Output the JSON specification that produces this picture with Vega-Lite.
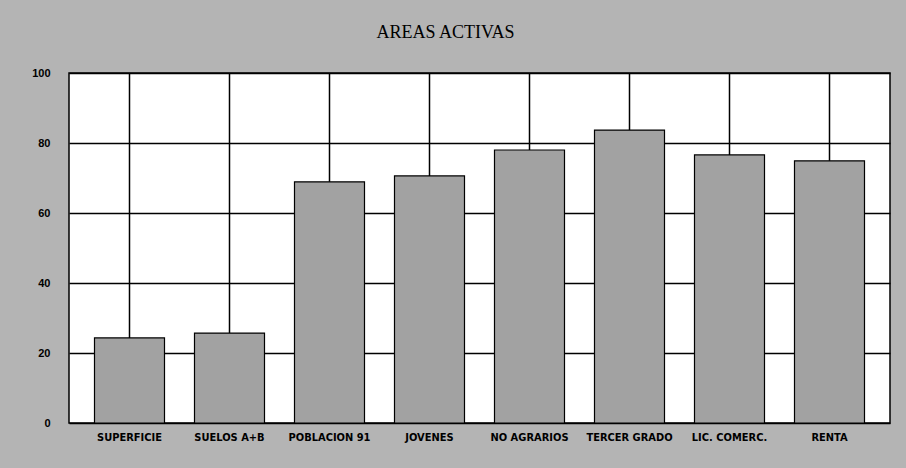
{
  "$schema": "https://vega.github.io/schema/vega-lite/v6.json",
  "width": 821,
  "height": 350,
  "autosize": {"type": "none"},
  "padding": {"left": 69, "top": 73, "right": 16, "bottom": 45},
  "background": "#b4b4b4",
  "title": {
    "text": "AREAS ACTIVAS",
    "font": "Liberation Serif",
    "fontSize": 18,
    "fontWeight": "normal",
    "color": "black",
    "anchor": "middle",
    "dx": -34,
    "offset": 25
  },
  "config": {
    "view": {"fill": "white", "stroke": "black", "strokeWidth": 1.5}
  },
  "data": {
    "values": [
      {"area": "SUPERFICIE", "valor": 24.3},
      {"area": "SUELOS A+B", "valor": 25.7},
      {"area": "POBLACION 91", "valor": 68.9},
      {"area": "JOVENES", "valor": 70.6},
      {"area": "NO AGRARIOS", "valor": 78},
      {"area": "TERCER GRADO", "valor": 83.7},
      {"area": "LIC. COMERC.", "valor": 76.6},
      {"area": "RENTA", "valor": 74.9}
    ]
  },
  "mark": {"type": "bar", "fill": "#a2a2a2", "stroke": "black", "strokeWidth": 1.2},
  "encoding": {
    "x": {
      "field": "area",
      "type": "nominal",
      "sort": null,
      "scale": {"paddingInner": 0.3, "paddingOuter": 0.255},
      "axis": {
        "title": null,
        "labelAngle": 0,
        "domain": false,
        "ticks": false,
        "grid": true,
        "bandPosition": 0.5,
        "gridColor": "black",
        "gridOpacity": 1,
        "gridWidth": 1.5,
        "labelFont": "Liberation Sans Narrow, DejaVu Sans Condensed, sans-serif",
        "labelFontSize": 11,
        "labelFontWeight": "bold",
        "labelColor": "black",
        "labelPadding": 8
      }
    },
    "y": {
      "field": "valor",
      "type": "quantitative",
      "scale": {"domain": [0, 100], "nice": false},
      "axis": {
        "title": null,
        "values": [0, 20, 40, 60, 80, 100],
        "domain": false,
        "ticks": false,
        "grid": true,
        "gridColor": "black",
        "gridOpacity": 1,
        "gridWidth": 1.5,
        "labelFont": "Liberation Sans, sans-serif",
        "labelFontSize": 11,
        "labelFontWeight": "bold",
        "labelColor": "black",
        "labelPadding": 19
      }
    }
  }
}
